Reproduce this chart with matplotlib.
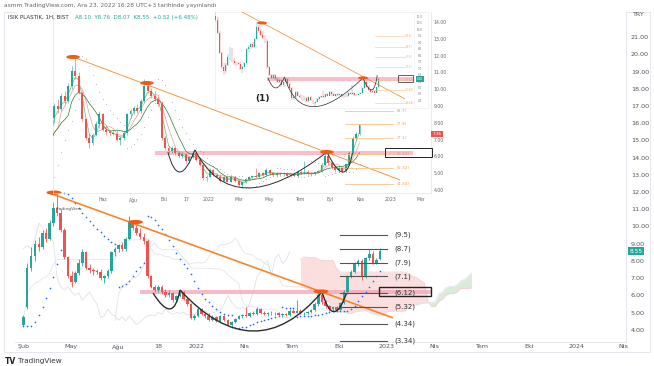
import numpy as np
import pandas as pd
import matplotlib
matplotlib.use("Agg")
import matplotlib.pyplot as plt
import matplotlib.transforms as mtransforms
from matplotlib.patches import Ellipse, Rectangle, PathPatch
from matplotlib.path import Path

# weekly candles ISIK PLASTIK (BIST), first bar week of 2021-02-01
first_week = "2021-02-01"
opens = [4.30, 5.30, 7.60, 8.30, 9.00, 8.80, 9.60, 9.30, 10.20, 11.10,
         10.80, 9.80, 8.20, 7.10, 6.80, 7.30, 7.90, 8.50, 7.60, 7.45,
         7.40, 7.35, 7.00, 7.10, 7.40, 8.50, 8.70, 8.90, 8.70, 9.30,
         10.20, 9.90, 9.60, 9.40, 9.15, 7.10, 6.50, 6.30, 6.50, 6.20,
         6.00, 6.15, 5.70, 5.95, 6.20, 5.80, 5.50, 4.70, 4.80, 5.20,
         4.90, 4.80, 4.55, 4.75, 4.50, 4.80, 4.55, 4.30, 4.45, 4.65,
         4.80, 4.85, 4.80, 5.00, 4.90, 5.20, 5.00, 4.90, 5.00, 4.95,
         5.00, 4.85, 4.90, 4.85, 5.10, 5.00, 5.10, 4.95, 4.95, 5.05,
         5.15, 5.50, 6.00, 5.60, 5.35, 5.20, 5.30, 5.15, 5.55, 6.20,
         7.10, 7.35, 7.85, 8.00, 7.10, 8.15, 8.40, 7.86, 8.10]
highs = [4.85, 7.90, 8.80, 9.20, 9.40, 9.80, 9.90, 10.40, 11.40, 11.95,
         11.00, 9.90, 8.30, 7.40, 7.40, 8.10, 8.70, 8.60, 7.80, 7.60,
         7.50, 7.55, 7.20, 7.50, 8.60, 8.80, 9.00, 9.10, 9.40, 10.60,
         10.40, 10.10, 9.90, 9.60, 9.30, 7.20, 6.60, 6.60, 6.60, 6.35,
         6.30, 6.20, 6.00, 6.30, 6.25, 5.90, 5.55, 4.90, 5.30, 5.25,
         5.00, 4.95, 4.85, 4.80, 4.85, 4.85, 4.60, 4.50, 4.70, 4.85,
         4.90, 5.30, 5.05, 5.10, 5.30, 5.25, 5.10, 5.05, 5.10, 5.05,
         5.05, 4.95, 5.00, 5.20, 5.20, 5.70, 5.20, 5.05, 5.10, 5.20,
         5.60, 6.30, 6.10, 5.70, 5.45, 5.40, 5.35, 5.60, 6.30, 7.20,
         7.45, 7.95, 8.10, 8.10, 8.25, 8.70, 8.60, 8.15, 8.76]
lows = [4.20, 5.20, 7.40, 8.00, 8.60, 8.70, 9.10, 9.20, 10.00, 10.60,
        9.70, 8.10, 7.00, 6.50, 6.70, 7.20, 7.70, 7.50, 7.30, 7.20,
        7.25, 6.90, 6.70, 7.00, 7.30, 8.30, 8.50, 8.60, 8.60, 9.20,
        9.80, 9.50, 9.30, 9.00, 7.00, 6.40, 6.20, 6.20, 6.10, 5.90,
        5.90, 5.60, 5.60, 5.90, 5.70, 5.40, 4.60, 4.55, 4.75, 4.85,
        4.70, 4.50, 4.50, 4.45, 4.45, 4.50, 4.25, 4.10, 4.40, 4.60,
        4.70, 4.75, 4.75, 4.85, 4.85, 4.90, 4.85, 4.80, 4.85, 4.85,
        4.80, 4.75, 4.80, 4.80, 4.95, 4.95, 4.90, 4.85, 4.90, 5.00,
        5.10, 5.40, 5.50, 5.25, 5.10, 5.10, 5.10, 5.10, 5.50, 6.10,
        7.00, 7.30, 7.70, 6.90, 7.00, 8.05, 7.80, 7.80, 8.07]
closes = [4.75, 7.60, 8.30, 9.00, 8.80, 9.60, 9.30, 10.20, 11.10, 10.80,
          9.80, 8.20, 7.10, 6.80, 7.30, 7.90, 8.50, 7.60, 7.45, 7.40,
          7.35, 7.00, 7.10, 7.40, 8.50, 8.70, 8.90, 8.70, 9.30, 10.20,
          9.90, 9.60, 9.40, 9.15, 7.10, 6.50, 6.30, 6.50, 6.20, 6.00,
          6.15, 5.70, 5.95, 6.20, 5.80, 5.50, 4.70, 4.80, 5.20, 4.90,
          4.80, 4.55, 4.75, 4.50, 4.80, 4.55, 4.30, 4.45, 4.65, 4.80,
          4.85, 4.80, 5.00, 4.90, 5.20, 5.00, 4.90, 5.00, 4.95, 5.00,
          4.85, 4.90, 4.85, 5.10, 5.00, 5.10, 4.95, 4.95, 5.05, 5.15,
          5.50, 6.00, 5.60, 5.35, 5.20, 5.30, 5.15, 5.55, 6.20, 7.10,
          7.35, 7.85, 8.00, 7.10, 8.15, 8.40, 7.86, 8.03, 8.55]

# axis ticks (x as months after Jan 2021)
main_xticks = [1, 4, 7, 9.55, 12, 15, 18, 21, 24, 27, 30, 33, 36, 39]
main_xlabels = ["Şub", "May", "Ağu", "18", "2022", "Nis", "Tem", "Eki",
                "2023", "Nis", "Tem", "Eki", "2024", "Nis"]
main_yticks = list(range(4, 22))
mid_xticks = [5, 7, 9, 10.53, 12, 14, 16, 18, 20, 22, 24, 26]
mid_xlabels = ["Haz", "Ağu", "Eki", "17", "2022", "Mar", "May", "Tem",
               "Eyl", "Kas", "2023", "Mar"]
mid_yticks = list(range(4, 15))
top_yticks = [4.5, 5, 5.5, 6, 6.5, 7, 7.5, 8, 8.5, 9, 9.5, 10, 10.5, 11]

fib_levels = [9.5, 8.7, 7.9, 7.1, 6.12, 5.32, 4.34, 3.34]
fib_labels = ["(9.5)", "(8.7)", "(7.9)", "(7.1)", "(6.12)", "(5.32)", "(4.34)", "(3.34)"]

# drawings on the weekly chart: (month, price)
main_trend = [(2.51, 12.0), (24.4, 4.69)]
main_marks = [(2.95, 11.97), (8.1, 10.26), (19.85, 6.22)]
main_band = (8.39, 26.8, 6.2)
main_box = (23.52, 26.81, 5.97, 6.49)
main_cups = [[(9.22, 6.13), (10.29, 5.21), (10.92, 6.31)],
             [(10.92, 6.31), (15.54, 3.92), (19.91, 6.2)],
             [(19.91, 6.2), (20.65, 5.05), (21.45, 6.1)]]
main_fib_span = (21.05, 24.03, 24.5)

# drawings on the middle (older, daily) chart
mid_last = 91
mid_trend = [(3.0, 11.92), (24.65, 4.6)]
mid_marks = [(3.0, 11.92), (7.89, 10.37), (19.81, 6.26)]
mid_band = (8.42, 25.5, 6.2)
mid_box = (23.66, 26.77, 5.96, 6.5)
mid_cups = [[(9.28, 6.26), (10.08, 5.07), (11.07, 6.39)],
            [(11.07, 6.39), (14.52, 4.12), (19.81, 6.26)],
            [(19.81, 6.26), (20.86, 5.07), (21.5, 6.2)]]
mid_fib_span = (21.0, 24.19, 24.45)
mid_tag = 7.36

# drawings on the small top chart
top_last = 88
top_trend = [(6.08, 11.39), (24.19, 4.65)]
top_marks = [(8.3, 10.54), (19.52, 6.28)]
top_band = (8.85, 25.1, 6.2)
top_box = (23.41, 25.08, 5.97, 6.51)
top_cups = [[(8.97, 6.28), (9.85, 5.5), (10.8, 6.35)],
            [(10.8, 6.35), (14.0, 4.05), (19.52, 6.28)],
            [(19.52, 6.28), (20.5, 5.35), (21.1, 6.5)]]
top_fib_span = (20.86, 24.19, 24.3)
top_tag = 6.2

GREEN = "#26a69a"
RED = "#ef5350"
ORANGE = "#f5862a"
BLOB = "#f05a14"
GRID = "#e0e3eb"
W, H = 654, 366


def box(x0, y0, x1, y1):
    return [x0 / W, 1 - y1 / H, (x1 - x0) / W, (y1 - y0) / H]


def mon(d):
    return (d.year - 2021) * 12 + d.month - 1 + (d.day - 1) / d.days_in_month


def draw_candles(ax, t, o, h, l, c, width, lw):
    o, h, l, c = map(np.asarray, (o, h, l, c))
    col = np.where(c >= o, GREEN, RED)
    ax.vlines(t, l, h, colors=col, lw=lw, zorder=3)
    ax.bar(t, np.maximum(np.abs(c - o), 0.03), width, bottom=np.minimum(o, c),
           color=col, lw=0, zorder=4)


def cup(ax, pts, lw):
    a, b, d = pts
    ctrl = (2 * b[0] - (a[0] + d[0]) / 2, 2 * b[1] - (a[1] + d[1]) / 2)
    p = Path([a, ctrl, d], [Path.MOVETO, Path.CURVE3, Path.CURVE3])
    ax.add_patch(PathPatch(p, fc="none", ec="#2b2b2b", lw=lw, zorder=6))


def psar(h, l, step=0.02, top=0.2):
    n = len(h)
    sar = np.zeros(n)
    up, af, ep = True, step, h[0]
    sar[0] = l[0]
    for i in range(1, n):
        s = sar[i - 1] + af * (ep - sar[i - 1])
        if up:
            s = min(s, l[i - 1], l[max(i - 2, 0)])
            if l[i] < s:
                up, s, ep, af = False, ep, l[i], step
            elif h[i] > ep:
                ep, af = h[i], min(af + step, top)
        else:
            s = max(s, h[i - 1], h[max(i - 2, 0)])
            if h[i] > s:
                up, s, ep, af = True, ep, h[i], step
            elif l[i] < ep:
                ep, af = l[i], min(af + step, top)
        sar[i] = s
    return sar


def drawings(ax, trend, marks, mark_size, band, band_h, rect, cups, cup_lw,
             tlw, band_col):
    ax.plot([trend[0][0], trend[1][0]], [trend[0][1], trend[1][1]],
            color=ORANGE, lw=tlw, zorder=5, solid_capstyle="butt")
    for m, p in marks:
        ax.add_patch(Ellipse((m, p), mark_size[0], mark_size[1], fc=BLOB,
                             ec="none", zorder=7))
    ax.add_patch(Rectangle((band[0], band[2] - band_h / 2), band[1] - band[0],
                           band_h, fc=band_col, ec="none", alpha=0.75, zorder=2))
    ax.add_patch(Rectangle((rect[0], rect[2]), rect[1] - rect[0], rect[3] - rect[2],
                           fc="none", ec="#222", lw=cup_lw, zorder=8, clip_on=False))
    for c in cups:
        cup(ax, c, cup_lw)


weeks = pd.date_range(first_week, periods=len(closes) + 25, freq="7D")
t_all = np.array([mon(d) for d in weeks])
n = len(closes)
t = t_all[:n]
h = pd.Series(highs)
l = pd.Series(lows)
c = pd.Series(closes)

fig = plt.figure(figsize=(W / 100, H / 100), dpi=100)

# ---------------- main weekly chart ----------------
ax = fig.add_axes(box(15, 12, 626, 342))
ax.set_xlim(0.48, 39.15)
ax.set_ylim(3.285, 22.47)

tenkan = (h.rolling(9, min_periods=1).max() + l.rolling(9, min_periods=1).min()) / 2
kijun = (h.rolling(26, min_periods=1).max() + l.rolling(26, min_periods=1).min()) / 2
span_a = ((tenkan + kijun) / 2).values
span_b = ((h.rolling(52).max() + l.rolling(52).min()) / 2).values
ts = t_all[25:25 + n]
ok = ~np.isnan(span_b)
ax.fill_between(ts[ok], span_a[ok], span_b[ok], where=span_a[ok] < span_b[ok],
                color="#f9c9c9", alpha=0.6, lw=0, zorder=1, interpolate=True)
ax.fill_between(ts[ok], span_a[ok], span_b[ok], where=span_a[ok] >= span_b[ok],
                color="#cfe8d0", alpha=0.8, lw=0, zorder=1, interpolate=True)
ax.plot(ts, span_a, color="#dfe3ea", lw=0.6, zorder=1)
ax.plot(ts[ok], span_b[ok], color="#f3d0d0", lw=0.6, zorder=1)
ax.plot(t, kijun, color="#e3e6ec", lw=0.6, zorder=1)
ax.plot(t_all[:n - 25], closes[25:], color="#dde1e8", lw=0.6, zorder=1)

sar = psar(highs, lows)
ax.plot(t, sar, ls="none", marker="o", ms=1.2, color="#2962ff", mec="none", zorder=3)

draw_candles(ax, t, opens, highs, lows, closes, 0.165, 0.6)
drawings(ax, main_trend, main_marks, (0.95, 0.24), main_band, 0.26, main_box,
         main_cups, 1.0, 1.2, "#f5a3b3")

for lv, lb in zip(fib_levels, fib_labels):
    ax.plot(main_fib_span[:2], [lv, lv], color="#555", lw=0.8, zorder=5)
    ax.text(main_fib_span[2], lv, lb, fontsize=5, color="#333", va="center",
            ha="left", zorder=9)

ax.set_xticks(main_xticks)
ax.set_xticklabels(main_xlabels)
ax.yaxis.tick_right()
ax.set_yticks(main_yticks)
ax.set_yticklabels([f"{v:.2f}" for v in main_yticks])
ax.tick_params(axis="x", length=0, labelsize=4.6, colors="#555", pad=1.5)
ax.tick_params(axis="y", length=0, labelsize=4.6, colors="#555", pad=3.5)
for s in ["top", "left"]:
    ax.spines[s].set_visible(False)
for s in ["right", "bottom"]:
    ax.spines[s].set_color(GRID)
    ax.spines[s].set_linewidth(0.6)
tr = mtransforms.blended_transform_factory(ax.transAxes, ax.transData)
ax.text(1.006, closes[-1], f"{closes[-1]:.2f}", transform=tr, fontsize=4.2,
        color="white", va="center", ha="left",
        bbox=dict(fc=GREEN, ec="none", boxstyle="square,pad=0.25"))

# ---------------- middle chart (older daily view) ----------------
ax2 = fig.add_axes(box(53, 12, 431, 193), facecolor="none")
ax2.set_zorder(2)
ax2.set_xlim(1.67, 26.70)
ax2.set_ylim(3.82, 14.6)
k = mid_last + 1
t2 = t[:k]
ax2.plot(t2, c[:k].rolling(3, min_periods=1).mean(), color="#66bb6a", lw=0.5, zorder=4)
ax2.plot(t2, c[:k].rolling(5, min_periods=1).mean(), color="#ef9a9a", lw=0.5, zorder=4)
ax2.plot(t2, c[:k].rolling(8, min_periods=1).mean(), color="#2e7d32", lw=0.5, zorder=4)
ax2.plot(t2, psar(highs[:k], lows[:k], 0.04), ls="none", marker="o", ms=0.6,
         color="#9575cd", mec="none", zorder=3)
draw_candles(ax2, t2, opens[:k], highs[:k], lows[:k], closes[:k], 0.12, 0.4)
drawings(ax2, mid_trend, mid_marks, (0.9, 0.24), mid_band, 0.2, mid_box,
         mid_cups, 0.7, 0.6, "#f7a8b8")
for lv, lb in zip(fib_levels[:-1], fib_labels[:-1]):
    ax2.plot(mid_fib_span[:2], [lv, lv], color="#f8c48c", lw=0.6, zorder=5)
    ax2.text(mid_fib_span[2], lv, lb, fontsize=3.2, color="#eea24c", va="center",
             ha="left", zorder=9)
ax2.set_xticks(mid_xticks)
ax2.set_xticklabels(mid_xlabels)
ax2.yaxis.tick_right()
ax2.set_yticks(mid_yticks)
ax2.set_yticklabels([f"{v:.2f}" for v in mid_yticks])
ax2.tick_params(axis="x", length=0, labelsize=3.3, colors="#666", pad=3)
ax2.tick_params(axis="y", length=0, labelsize=3.3, colors="#666", pad=2)
ax2.spines["top"].set_visible(False)
for s in ["right", "bottom", "left"]:
    ax2.spines[s].set_color(GRID)
    ax2.spines[s].set_linewidth(0.5)
tr2 = mtransforms.blended_transform_factory(ax2.transAxes, ax2.transData)
ax2.text(1.004, mid_tag, f"{mid_tag:.2f}", transform=tr2, fontsize=3.0,
         color="white", va="center", ha="left",
         bbox=dict(fc=RED, ec="none", boxstyle="square,pad=0.25"))

# ---------------- small top chart ----------------
ax3 = fig.add_axes(box(215, 12, 428, 108), facecolor="white")
ax3.set_zorder(3)
ax3.set_xlim(3.08, 26.74)
ax3.set_ylim(3.95, 11.39)
k = top_last + 1
draw_candles(ax3, t[:k], opens[:k], highs[:k], lows[:k], closes[:k], 0.1, 0.3)
drawings(ax3, top_trend, top_marks, (1.1, 0.24), top_band, 0.24, top_box,
         top_cups, 0.5, 0.5, "#f7a8b8")
ax3.text(8.41, 4.65, "(1)", fontsize=6.5, fontweight="bold", color="#222",
         ha="center", va="center", zorder=9)
for lv, lb in zip(fib_levels[:-1], fib_labels[:-1]):
    ax3.plot(top_fib_span[:2], [lv, lv], color="#f8c48c", lw=0.4, zorder=5)
    ax3.text(top_fib_span[2], lv, lb, fontsize=2.0, color="#eea24c", va="center",
             ha="left", zorder=9)
ax3.axvline(25.19, color="#eeeeee", lw=0.4)
tr3 = mtransforms.blended_transform_factory(ax3.transAxes, ax3.transData)
for v in top_yticks:
    ax3.text(0.962, v, f"{v:.1f}", transform=tr3, fontsize=2.0, color="#777",
             ha="center", va="center")
ax3.text(0.962, top_tag, f"{top_tag:.2f}", transform=tr3, fontsize=2.0,
         color="white", ha="center", va="center", zorder=10,
         bbox=dict(fc=GREEN, ec="none", boxstyle="square,pad=0.3"))
ax3.set_xticks([])
ax3.set_yticks([])
for s in ax3.spines.values():
    s.set_color("#e8e8e8")
    s.set_linewidth(0.4)

# ---------------- frame and texts ----------------
fig.add_artist(Rectangle((4 / W, 1 - 352 / H), 646 / W, 340 / H, transform=fig.transFigure,
                         fc="none", ec=GRID, lw=0.6, zorder=0))
fig.text(4 / W, 1 - 6 / H, "asmm TradingView.com, Ara 23, 2022 16:28 UTC+3 tarihinde yayınlandı",
         fontsize=4.2, color="#666", va="center", ha="left")
fig.text(8 / W, 1 - 17 / H, "ISIK PLASTIK, 1H, BIST", fontsize=4.0, color="#333",
         va="center", ha="left", zorder=10)
fig.text(75 / W, 1 - 17 / H, "A8.10  Y8.76  D8.07  K8.55  +0.52 (+6.48%)", fontsize=4.0,
         color=GREEN, va="center", ha="left", zorder=10)
fig.text(638 / W, 1 - 15 / H, "TRY", fontsize=4.6, color="#555", va="center", ha="center")
fig.text(55 / W, 1 - 209 / H, "TradingView", fontsize=3.2, color="#555", va="center",
         ha="left", zorder=10)
fig.text(5 / W, 1 - 361 / H, "TV", fontsize=5.5, fontweight="bold", color="#222",
         va="center", ha="left")
fig.text(18 / W, 1 - 361 / H, "TradingView", fontsize=5.2, color="#333",
         va="center", ha="left")

fig.savefig("out.png", dpi=100, facecolor="white")
